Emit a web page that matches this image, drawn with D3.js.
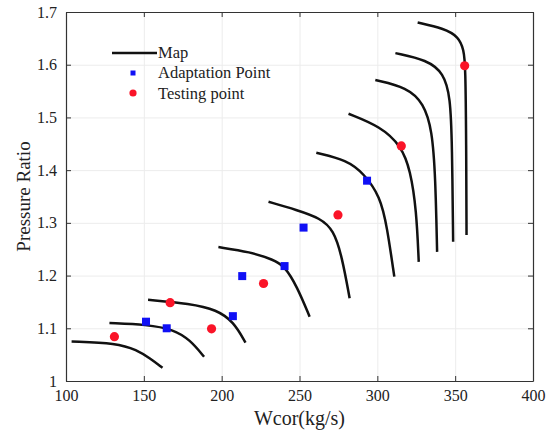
<!DOCTYPE html>
<html>
<head>
<meta charset="utf-8">
<script src="https://cdn.jsdelivr.net/npm/d3@7"></script>
<style>
  body { margin: 0; background: #fff; }
  text { font-family: "Liberation Serif", "Times New Roman", serif; fill: #222; }
</style>
</head>
<body>
<div id="chart"></div>
<script>

// map speed lines (Wcor, pressure ratio)
var map_1  = [[103.6,1.075],[132.6,1.072],[145.4,1.059],[154,1.043],[162,1.025]];
var map_2  = [[127.9,1.110],[151.9,1.107],[169,1.098],[179.7,1.078],[188.7,1.046]];
var map_3  = [[152.7,1.154],[179.7,1.147],[196.9,1.135],[207.6,1.1125],[215.3,1.073]];
var map_4  = [[197.9,1.254],[218.3,1.245],[233.3,1.230],[240.4,1.218],[248.3,1.180],[256.5,1.122]];
var map_5  = [[230.1,1.340],[248.3,1.3245],[263.3,1.309],[271.9,1.2865],[277.3,1.236],[282.2,1.157]];
var map_6  = [[260.8,1.433],[280.5,1.419],[291.2,1.394],[301.9,1.350],[306.2,1.293],[310.9,1.198]];
var map_7  = [[281.5,1.507],[301.9,1.483],[315.4,1.446],[321.2,1.400],[325.1,1.3245],[326.6,1.226]];
var map_8  = [[298.7,1.571],[319.1,1.557],[329.8,1.527],[335.2,1.476],[337.3,1.388],[338.4,1.245]];
var map_9  = [[311.6,1.622],[332,1.609],[342.6,1.584],[346.9,1.539],[348,1.451],[348.7,1.264]];
var map_10 = [[325.9,1.680],[342.6,1.669],[352.3,1.653],[355.5,1.628],[356.6,1.600],[357.1,1.451],[357.3,1.277]];

// adaptation points (blue squares)
var adapt_x = [151.4, 164.7, 207.2, 213.2, 240.4, 252.6, 293.4];
var adapt_y = [1.1125, 1.100, 1.123, 1.199, 1.218, 1.291, 1.380];

// testing points (red dots)
var test_x = [131.1, 166.9, 193.5, 226.9, 274.7, 315.4, 356.1];
var test_y = [1.084, 1.1486, 1.099, 1.185, 1.315, 1.446, 1.598];

// ticks
var x_ticks = [100, 150, 200, 250, 300, 350, 400];
var y_ticks = [1, 1.1, 1.2, 1.3, 1.4, 1.5, 1.6, 1.7];

var legend_labels = ["Map", "Adaptation Point", "Testing point"];

window.onload = function() {

  var w_svg = 549;
  var h_svg = 435;

  // plot box
  var left = 66, top = 12, right = 533, bottom = 381;

  var svg = d3.select("#chart")
    .append("svg")
      .attr("width", w_svg)
      .attr("height", h_svg);

  var xScale = d3.scaleLinear().domain([100, 400]).range([left, right]);
  var yScale = d3.scaleLinear().domain([1, 1.7]).range([bottom, top]);

  // faint grid
  svg.append("g").attr("transform", "translate(0," + bottom + ")")
    .call(d3.axisBottom(xScale).tickValues(x_ticks).tickSize(-(bottom - top)).tickFormat(""))
    .call(function(g) {
      g.select(".domain").remove();
      g.selectAll("line").attr("stroke", "#ececec");
    });
  svg.append("g").attr("transform", "translate(" + left + ",0)")
    .call(d3.axisLeft(yScale).tickValues(y_ticks).tickSize(-(right - left)).tickFormat(""))
    .call(function(g) {
      g.select(".domain").remove();
      g.selectAll("line").attr("stroke", "#ececec");
    });

  // axes with inward ticks
  var x_axis = d3.axisBottom(xScale).tickValues(x_ticks).tickSizeInner(-5).tickSizeOuter(0).tickPadding(9)
    .tickFormat(d3.format("d"));
  var gx = svg.append("g").attr("transform", "translate(0," + bottom + ")").call(x_axis);

  var y_axis = d3.axisLeft(yScale).tickValues(y_ticks).tickSizeInner(-5).tickSizeOuter(0).tickPadding(9)
    .tickFormat(function(d) { return d3.format("")(+d.toFixed(1)); });
  var gy = svg.append("g").attr("transform", "translate(" + left + ",0)").call(y_axis);

  // mirrored ticks on top and right
  var gxt = svg.append("g").attr("transform", "translate(0," + top + ")")
    .call(d3.axisTop(xScale).tickValues(x_ticks).tickSizeInner(-5).tickSizeOuter(0).tickFormat(""));
  var gyr = svg.append("g").attr("transform", "translate(" + right + ",0)")
    .call(d3.axisRight(yScale).tickValues(y_ticks).tickSizeInner(-5).tickSizeOuter(0).tickFormat(""));

  [gx, gy, gxt, gyr].forEach(function(g) {
    g.select(".domain").attr("stroke", "#333").attr("stroke-width", 1.2);
    g.selectAll(".tick line").attr("stroke", "#333");
    g.selectAll(".tick text")
      .style("font-family", "'Liberation Serif', 'Times New Roman', serif")
      .style("font-size", "16px")
      .attr("fill", "#333");
  });

  // axis labels
  svg.append("text")
    .attr("x", (left + right) / 2)
    .attr("y", 425)
    .attr("text-anchor", "middle")
    .style("font-size", "20px")
    .text("Wcor(kg/s)");

  svg.append("text")
    .attr("transform", "translate(30," + ((top + bottom) / 2) + ") rotate(-90)")
    .attr("text-anchor", "middle")
    .style("font-size", "19px")
    .text("Pressure Ratio");

  // map lines, smoothed
  var line = d3.line()
    .x(function(d) { return xScale(d[0]); })
    .y(function(d) { return yScale(d[1]); })
    .curve(d3.curveBasis);

  var maps = [map_1, map_2, map_3, map_4, map_5, map_6, map_7, map_8, map_9, map_10];
  svg.selectAll("path.map")
    .data(maps)
    .enter()
    .append("path")
      .attr("class", "map")
      .attr("d", line)
      .attr("fill", "none")
      .attr("stroke", "#111")
      .attr("stroke-width", 2.5);

  // adaptation points
  var sq = 8;
  svg.selectAll("rect.adapt")
    .data(d3.range(adapt_x.length))
    .enter()
    .append("rect")
      .attr("class", "adapt")
      .attr("x", function(i) { return xScale(adapt_x[i]) - sq / 2; })
      .attr("y", function(i) { return yScale(adapt_y[i]) - sq / 2; })
      .attr("width", sq)
      .attr("height", sq)
      .attr("fill", "#1010f5");

  // testing points
  svg.selectAll("circle.test")
    .data(d3.range(test_x.length))
    .enter()
    .append("circle")
      .attr("class", "test")
      .attr("cx", function(i) { return xScale(test_x[i]); })
      .attr("cy", function(i) { return yScale(test_y[i]); })
      .attr("r", 4.6)
      .attr("fill", "#fa1428");

  // legend
  var lg = svg.append("g").attr("transform", "translate(112,0)");
  lg.append("line")
    .attr("x1", 0).attr("x2", 45).attr("y1", 53).attr("y2", 53)
    .attr("stroke", "#111").attr("stroke-width", 2.5);
  lg.append("rect")
    .attr("x", 18.5).attr("y", 70.5).attr("width", 5).attr("height", 5)
    .attr("fill", "#1010f5");
  lg.append("circle")
    .attr("cx", 21).attr("cy", 93).attr("r", 3.6)
    .attr("fill", "#fa1428");
  lg.selectAll("text.lab")
    .data(legend_labels)
    .enter()
    .append("text")
      .attr("class", "lab")
      .attr("x", 46)
      .attr("y", function(d, i) { return 58 + i * 20.3; })
      .style("font-size", "16.5px")
      .text(function(d) { return d; });

};
</script>
</body>
</html>
